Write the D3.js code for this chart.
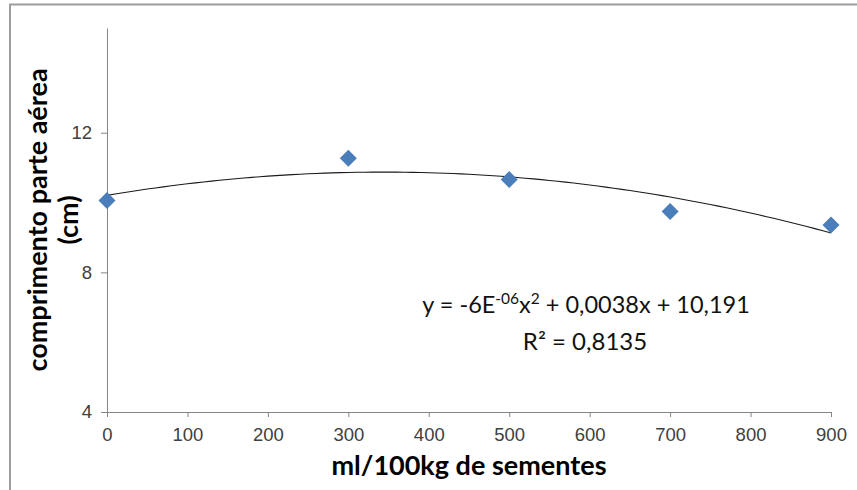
<!DOCTYPE html>
<html>
<head>
<meta charset="utf-8">
<script src="https://cdn.jsdelivr.net/npm/d3@7"></script>
<style>
    body { margin: 0; background: #fff; }
    svg { display: block; font-family: Lato, "Open Sans", sans-serif; }
    .tick text { fill: #404040; font-size: 18.5px; }
    .domain, .tick line { stroke: #868686; }
</style>
</head>
<body>
<div id="chart"></div>
<script>
const doses = [0, 300, 500, 700, 900];
const lengths = [10.06, 11.27, 10.66, 9.74, 9.36];
const xTicks = [0, 100, 200, 300, 400, 500, 600, 700, 800, 900];
const yTicks = [4, 8, 12];
const equationText = ['y = -6E', '-06', 'x', '2', ' + 0,0038x + 10,191'];
const r2Text = 'R² = 0,8135';

const width = 857;
const height = 490;

const svg = d3.select('#chart')
    .append('svg')
    .attr('width', width)
    .attr('height', height);

// outer frame of the chart area (right and bottom edges are cut off)
svg.append('path')
    .attr('d', `M10,${height + 5}V4.5H${width + 5}`)
    .attr('fill', 'none')
    .attr('stroke', '#9c9c9c')
    .attr('stroke-width', 2);

const x = d3.scaleLinear().domain([0, 900]).range([107, 831]);
const y = d3.scaleLinear().domain([4, 15]).range([412, 28]);

svg.append('g')
    .attr('transform', `translate(0,${y(4)})`)
    .call(d3.axisBottom(x).tickValues(xTicks).tickSize(5).tickPadding(11).tickSizeOuter(0))
    .call(g => g.selectAll('.tick text').attr('dy', '0.71em'));

svg.append('g')
    .attr('transform', `translate(${x(0)},0)`)
    .call(d3.axisLeft(y).tickValues(yTicks).tickSize(6).tickPadding(9).tickSizeOuter(0));

// least squares quadratic fit (the trendline)
function quadFit(xs, ys) {
    let s = [0, 0, 0, 0, 0], t = [0, 0, 0];
    xs.forEach((xv, i) => {
        for (let k = 0; k < 5; k++) s[k] += Math.pow(xv, k);
        for (let k = 0; k < 3; k++) t[k] += Math.pow(xv, k) * ys[i];
    });
    const m = [
        [s[0], s[1], s[2], t[0]],
        [s[1], s[2], s[3], t[1]],
        [s[2], s[3], s[4], t[2]]
    ];
    for (let i = 0; i < 3; i++) {
        for (let j = i + 1; j < 3; j++) {
            const f = m[j][i] / m[i][i];
            for (let k = i; k < 4; k++) m[j][k] -= f * m[i][k];
        }
    }
    const c = [0, 0, 0];
    for (let i = 2; i >= 0; i--) {
        let v = m[i][3];
        for (let k = i + 1; k < 3; k++) v -= m[i][k] * c[k];
        c[i] = v / m[i][i];
    }
    return xv => c[0] + c[1] * xv + c[2] * xv * xv;
}

const fit = quadFit(doses, lengths);
const curveXs = d3.range(0, 901, 10);

svg.append('path')
    .datum(curveXs)
    .attr('fill', 'none')
    .attr('stroke', '#1a1a1a')
    .attr('stroke-width', 1.1)
    .attr('d', d3.line().x(d => x(d)).y(d => y(fit(d))));

svg.selectAll('.pt')
    .data(doses)
    .enter().append('path')
    .attr('class', 'pt')
    .attr('transform', (d, i) => `translate(${x(d)},${y(lengths[i])})`)
    .attr('d', 'M0,-8.5L8.5,0L0,8.5L-8.5,0Z')
    .attr('fill', '#4a7ebb');

// trendline equation
const eq = svg.append('text')
    .attr('x', 586)
    .attr('y', 313)
    .attr('text-anchor', 'middle')
    .attr('font-size', 23.5)
    .attr('fill', '#111');
eq.append('tspan').text(equationText[0]);
eq.append('tspan').attr('dy', -9).attr('font-size', 15.5).text(equationText[1]);
eq.append('tspan').attr('dy', 9).text(equationText[2]);
eq.append('tspan').attr('dy', -9).attr('font-size', 15.5).text(equationText[3]);
eq.append('tspan').attr('dy', 9).text(equationText[4]);

svg.append('text')
    .attr('x', 585)
    .attr('y', 350)
    .attr('text-anchor', 'middle')
    .attr('font-size', 24)
    .attr('fill', '#111')
    .text(r2Text);

// axis titles
svg.append('text')
    .attr('x', 469)
    .attr('y', 475)
    .attr('text-anchor', 'middle')
    .attr('font-size', 27)
    .attr('font-weight', 'bold')
    .attr('fill', '#000')
    .text('ml/100kg de sementes');

const yTitle = svg.append('text')
    .attr('transform', 'translate(47,220) rotate(-90)')
    .attr('text-anchor', 'middle')
    .attr('font-size', 27)
    .attr('font-weight', 'bold')
    .attr('fill', '#000');
yTitle.append('tspan').attr('x', 0).attr('y', 0).text('comprimento parte aérea');
yTitle.append('tspan').attr('x', 0).attr('y', 31).text('(cm)');
</script>
</body>
</html>
